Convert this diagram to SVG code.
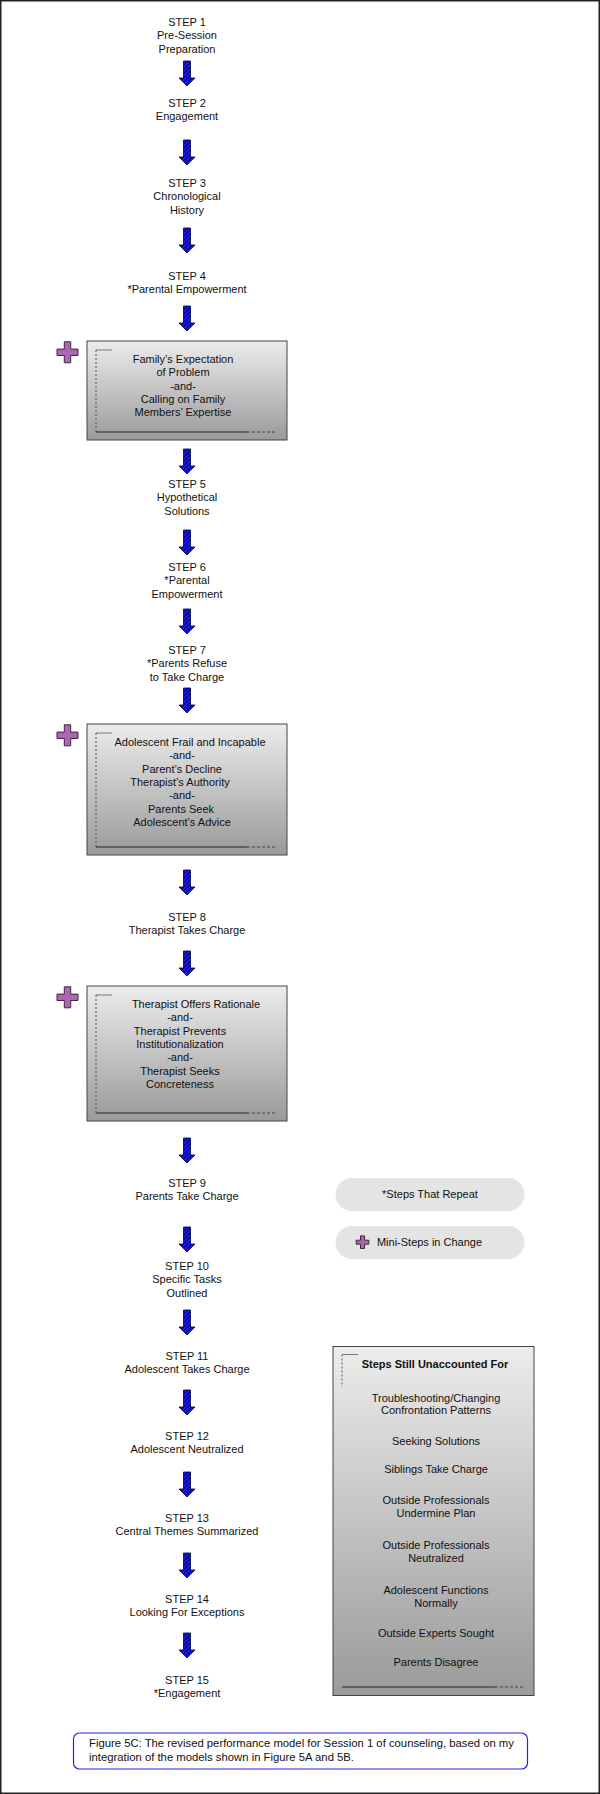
<svg xmlns="http://www.w3.org/2000/svg" width="600" height="1794" viewBox="0 0 600 1794">
<style>
text{font-family:"Liberation Sans",Arial,sans-serif;font-size:11px;fill:#111;text-anchor:middle}
.b{font-weight:bold}
.cap{text-anchor:start;font-size:11.3px}
.box{fill:url(#g);stroke:#444;stroke-width:1}
.pill{fill:#e4e4e4;stroke:none}
.dash{stroke:#555;stroke-width:1;stroke-dasharray:2 2;fill:none}
.dashh{stroke:#444;stroke-width:1;stroke-dasharray:3 2;fill:none}
.solid{stroke:#222;stroke-width:1;fill:none}
.tick{stroke:#777;stroke-width:1;fill:none}
.plus{fill:#ad66b4;stroke:#3a2a3a;stroke-width:1}
</style>
<defs>
<linearGradient id="g" x1="0" y1="0" x2="0" y2="1">
<stop offset="0" stop-color="#ececec"/>
<stop offset="1" stop-color="#9a9a9a"/>
</linearGradient>
<pattern id="hatch" patternUnits="userSpaceOnUse" width="3" height="3" patternTransform="rotate(45)">
<rect width="3" height="3" fill="#1a1af0"/>
<rect width="1" height="3" fill="#000066"/>
</pattern>
<path id="arrow" d="M-3.5,0 H3.5 V17 H8 L0,25 L-8,17 H-3.5 Z" fill="url(#hatch)" stroke="#000033" stroke-width="0.8"/>
<path id="plus" class="plus" d="M-3.2,-10.5 H3.2 V-3.2 H10.5 V3.2 H3.2 V10.5 H-3.2 V3.2 H-10.5 V-3.2 H-3.2 Z"/>
</defs>
<rect x="0.75" y="0.75" width="598.5" height="1792.5" fill="#fff" stroke="#222" stroke-width="1.5"/>

<g id="connectors">
<use href="#arrow" x="187" y="61"/>
<use href="#arrow" x="187" y="140"/>
<use href="#arrow" x="187" y="228"/>
<use href="#arrow" x="187" y="306"/>
<use href="#arrow" x="187" y="449"/>
<use href="#arrow" x="187" y="530"/>
<use href="#arrow" x="187" y="609"/>
<use href="#arrow" x="187" y="688"/>
<use href="#arrow" x="187" y="870"/>
<use href="#arrow" x="187" y="951"/>
<use href="#arrow" x="187" y="1138"/>
<use href="#arrow" x="187" y="1227"/>
<use href="#arrow" x="187" y="1310"/>
<use href="#arrow" x="187" y="1390"/>
<use href="#arrow" x="187" y="1472"/>
<use href="#arrow" x="187" y="1553"/>
<use href="#arrow" x="187" y="1633"/>
</g>

<g id="step1"><text x="187" y="26">STEP 1</text><text x="187" y="39.3">Pre-Session</text><text x="187" y="52.6">Preparation</text></g>
<g id="step2"><text x="187" y="107">STEP 2</text><text x="187" y="120.3">Engagement</text></g>
<g id="step3"><text x="187" y="187">STEP 3</text><text x="187" y="200.3">Chronological</text><text x="187" y="213.6">History</text></g>
<g id="step4"><text x="187" y="280">STEP 4</text><text x="187" y="293.3">*Parental Empowerment</text></g>

<g id="mini1">
<use href="#plus" x="67.5" y="352.3"/>
<rect class="box" x="87" y="341" width="200" height="99"/>
<path class="tick" d="M96,350 H112"/>
<path class="dash" d="M96,350 V432"/>
<path class="solid" d="M96,432 H247"/>
<path class="dashh" d="M247,432 H277"/>
<text x="183" y="363">Family’s Expectation</text>
<text x="183" y="376.3">of Problem</text>
<text x="183" y="389.6">-and-</text>
<text x="183" y="402.9">Calling on Family</text>
<text x="183" y="416.2">Members’ Expertise</text>
</g>

<g id="step5"><text x="187" y="488">STEP 5</text><text x="187" y="501.3">Hypothetical</text><text x="187" y="514.6">Solutions</text></g>
<g id="step6"><text x="187" y="571">STEP 6</text><text x="187" y="584.3">*Parental</text><text x="187" y="597.6">Empowerment</text></g>
<g id="step7"><text x="187" y="654">STEP 7</text><text x="187" y="667.3">*Parents Refuse</text><text x="187" y="680.6">to Take Charge</text></g>

<g id="mini2">
<use href="#plus" x="67.5" y="735.3"/>
<rect class="box" x="87" y="724" width="200" height="131"/>
<path class="tick" d="M96,733 H112"/>
<path class="dash" d="M96,733 V847"/>
<path class="solid" d="M96,847 H247"/>
<path class="dashh" d="M247,847 H277"/>
<text x="190" y="746">Adolescent Frail and Incapable</text>
<text x="182" y="759.3">-and-</text>
<text x="182" y="772.6">Parent’s Decline</text>
<text x="180" y="785.9">Therapist’s Authority</text>
<text x="182" y="799.2">-and-</text>
<text x="181" y="812.5">Parents Seek</text>
<text x="182" y="825.8">Adolescent’s Advice</text>
</g>

<g id="step8"><text x="187" y="921">STEP 8</text><text x="187" y="934.3">Therapist Takes Charge</text></g>

<g id="mini3">
<use href="#plus" x="67.5" y="997.3"/>
<rect class="box" x="87" y="986" width="200" height="135"/>
<path class="tick" d="M96,995 H112"/>
<path class="dash" d="M96,995 V1113"/>
<path class="solid" d="M96,1113 H247"/>
<path class="dashh" d="M247,1113 H277"/>
<text x="196" y="1008">Therapist Offers Rationale</text>
<text x="180" y="1021.3">-and-</text>
<text x="180" y="1034.6">Therapist Prevents</text>
<text x="180" y="1047.9">Institutionalization</text>
<text x="180" y="1061.2">-and-</text>
<text x="180" y="1074.5">Therapist Seeks</text>
<text x="180" y="1087.8">Concreteness</text>
</g>

<g id="step9"><text x="187" y="1187">STEP 9</text><text x="187" y="1200.3">Parents Take Charge</text></g>
<g id="step10"><text x="187" y="1270">STEP 10</text><text x="187" y="1283.3">Specific Tasks</text><text x="187" y="1296.6">Outlined</text></g>
<g id="step11"><text x="187" y="1360">STEP 11</text><text x="187" y="1373.3">Adolescent Takes Charge</text></g>
<g id="step12"><text x="187" y="1440">STEP 12</text><text x="187" y="1453.3">Adolescent Neutralized</text></g>
<g id="step13"><text x="187" y="1522">STEP 13</text><text x="187" y="1535.3">Central Themes Summarized</text></g>
<g id="step14"><text x="187" y="1603">STEP 14</text><text x="187" y="1616.3">Looking For Exceptions</text></g>
<g id="step15"><text x="187" y="1684">STEP 15</text><text x="187" y="1697.3">*Engagement</text></g>

<g id="legend-repeat">
<rect class="pill" x="335.5" y="1178" width="189" height="33" rx="16.5"/>
<text x="430" y="1197.7">*Steps That Repeat</text>
</g>
<g id="legend-mini">
<rect class="pill" x="335.5" y="1226" width="189" height="33" rx="16.5"/>
<path class="plus" transform="translate(362.5,1242.2)" d="M-2,-6.3 H2 V-2 H6.3 V2 H2 V6.3 H-2 V2 H-6.3 V-2 H-2 Z"/>
<text x="429.5" y="1245.6">Mini-Steps in Change</text>
</g>

<g id="unaccounted">
<rect class="box" x="333" y="1346.5" width="201" height="349"/>
<path class="tick" d="M342,1354.5 H358"/>
<path class="dash" d="M342,1354.5 V1387"/>
<path class="solid" d="M342,1687 H495"/>
<path class="dashh" d="M495,1687 H523"/>
<text class="b" x="435" y="1368">Steps Still Unaccounted For</text>
<text x="436" y="1401.6">Troubleshooting/Changing</text>
<text x="436" y="1414.3">Confrontation Patterns</text>
<text x="436" y="1444.6">Seeking Solutions</text>
<text x="436" y="1473.2">Siblings Take Charge</text>
<text x="436" y="1503.9">Outside Professionals</text>
<text x="436" y="1516.6">Undermine Plan</text>
<text x="436" y="1548.6">Outside Professionals</text>
<text x="436" y="1561.7">Neutralized</text>
<text x="436" y="1593.7">Adolescent Functions</text>
<text x="436" y="1607.2">Normally</text>
<text x="436" y="1637.1">Outside Experts Sought</text>
<text x="436" y="1665.7">Parents Disagree</text>
</g>

<g id="caption">
<rect x="73.5" y="1733" width="454" height="36" rx="6" fill="#fff" stroke="#2222ee" stroke-width="1.2"/>
<text class="cap" x="89" y="1747">Figure 5C:  The revised performance model for Session 1 of counseling, based on my</text>
<text class="cap" x="89" y="1760.5">integration of the models shown in Figure 5A and 5B.</text>
</g>
</svg>
